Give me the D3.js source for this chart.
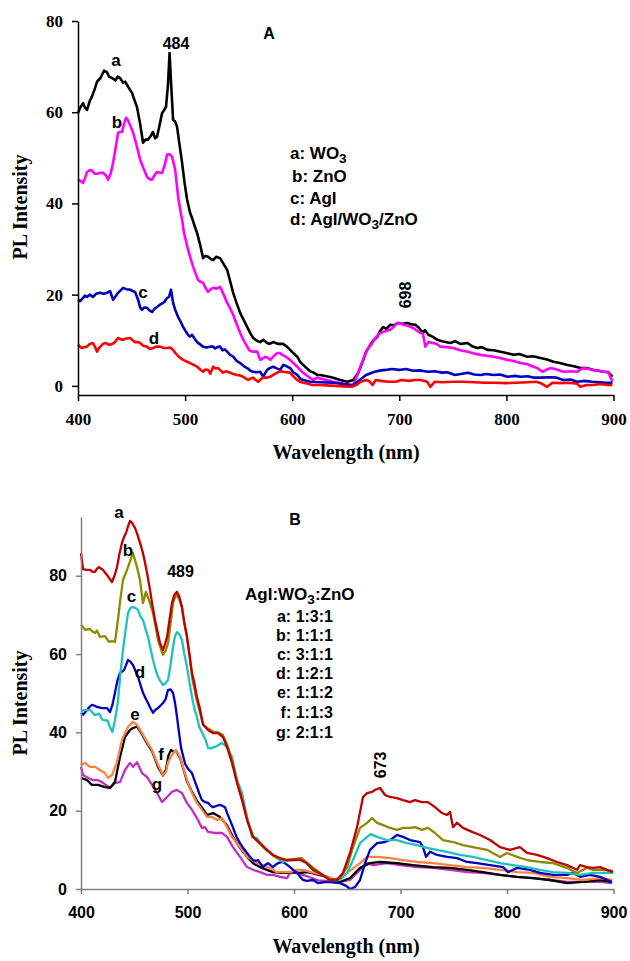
<!DOCTYPE html>
<html><head><meta charset="utf-8">
<script src="https://cdn.jsdelivr.net/npm/d3@7"></script>
<style>
body{margin:0;background:#fff;}
svg{display:block;}
.sans{font-family:"Liberation Sans",Arial,sans-serif;font-weight:bold;}
.serif{font-family:"Liberation Serif","Times New Roman",serif;font-weight:bold;}
</style></head>
<body>
<svg id="chart" width="630" height="961"></svg>
<script>
// ---------- data ----------
const wavelengthTicks = [400, 500, 600, 700, 800, 900];
const intensityTicksA = [0, 20, 40, 60, 80];
const intensityTicksB = [0, 20, 40, 60, 80];

// Panel A  [wavelength nm, PL intensity]
const A_WO3 = [[400,59.8],[402,61],[404.7,62],[406.5,61],[408.4,60.5],[411,62.5],[413,63.4],[415.5,65],[417.8,66.7],[421,67.5],[424.3,69.1],[427,68.8],[429,67.8],[431.8,67.5],[435,67],[437,67.8],[439.3,67.5],[442,66.5],[444,66.7],[447,65.5],[450.5,64.2],[453,62.5],[455,61.2],[458,57.5],[460.7,53.3],[463,54],[465.4,54],[468,54.8],[470,55.7],[472,54.3],[473.8,54.6],[476,57],[478.5,59.8],[480.5,60.5],[482.2,61.2],[484,66],[485.5,73],[487,66],[488.8,58.3],[490.5,58],[492.5,56.8],[495,52.5],[497.2,48.9],[499.5,44.5],[501.9,40.8],[504.7,37.9],[506.5,36.8],[509,35],[511.2,33.5],[514,31],[516.8,28],[519,28.5],[521.5,28.3],[524,27.8],[526.2,27.6],[529,28.3],[532.7,28],[536,26.7],[539.3,25.4],[542,23],[544.9,20.4],[548,18.2],[551.4,16],[555,14.3],[558,12.9],[561,11.5],[563.6,10.5],[567,9.9],[570.1,9.6],[573,10.1],[576.6,9.4],[579,9.2],[582.2,9.6],[587,9.2],[591.6,9.2],[595,8.6],[598.1,7.9],[601,7.2],[604.7,6.4],[607.5,5.2],[610.3,4.6],[613,4],[616.8,3.2],[620,2.9],[623.4,2.4],[626.2,2.4],[632,2.1],[638.3,1.8],[645,1.3],[651.4,0.9],[657,1.3],[661.7,2.9],[666.4,5.7],[669,7.5],[672.9,9],[676,10],[679.4,10.7],[682,12],[685,12.9],[688,12.5],[691.6,13.4],[695,13.3],[699,13.8],[703,13.6],[707.5,13.8],[711,13.5],[715,13.4],[718,12.8],[721.5,11.8],[724,12.2],[727.1,11.2],[731,10.8],[735.5,10.1],[740,9.8],[747.7,9.4],[752,9.8],[757,9.2],[763.6,9.4],[768,8.7],[772.9,8.3],[777,8.5],[782.2,7.9],[788,7.8],[794.4,7.5],[800,7.2],[806.5,6.8],[812,7.0],[819.6,6.4],[825,6.5],[831.8,6.1],[838,5.8],[843.9,5.3],[850,5.0],[857,4.6],[863,4.3],[869.2,3.9],[875,3.9],[881.3,3.5],[886,3.3],[890.7,3.1],[895,3.0],[899,2.0]];

const A_ZnO = [[400,45.2],[402,45],[404.7,44.5],[406.5,45.5],[408.4,46.9],[411,47.3],[413.1,47.2],[415.5,46.5],[417.8,46.5],[420,46.7],[423.4,46.7],[426,46.2],[428,45.2],[430.5,46.5],[432.7,48.9],[435,52],[437.4,55.5],[439,55.6],[441.1,55.7],[443,57.5],[444.9,58.8],[446.5,58.3],[448.6,57.2],[451,55.8],[453.3,54],[455.5,52],[458,49.6],[461,47.8],[464.5,45.8],[467,45.3],[469.2,45.2],[471.5,46.2],[473.8,46.9],[476,46.8],[478.5,46.7],[481,48.5],[483.2,50.7],[485.5,50.8],[487.9,50.2],[490.7,47.4],[493.5,41.4],[495.5,38.5],[497.2,36.4],[499,33.5],[502.8,29.8],[505,28],[507.5,26.1],[510,24.5],[512.1,23.2],[514.5,22.8],[516.8,22.6],[519,21.5],[521.5,20.6],[524,21.2],[526.2,21.5],[529,21.3],[532.7,21.7],[536,20],[539.3,18.2],[542,17],[544.9,15.6],[548,13.6],[551.4,11.6],[555,9.8],[558,8.6],[560,7.8],[562.6,7.5],[565,7.5],[567.3,7.5],[570.1,5.7],[572.5,6],[574.8,6.4],[577,6.2],[579.4,5.7],[583,6.6],[586,7.2],[588.5,7.2],[590.7,6.8],[594,6.4],[598.1,5.7],[601,5],[604.7,4.2],[607.5,3.5],[610.3,2.9],[614,2.2],[619.6,1.3],[623.4,1.8],[630,1.4],[638.3,0.9],[645,0.6],[651,0.3],[656.1,-0.2],[658.9,1.3],[661,2.5],[663.6,4.2],[667,6.2],[670.1,7.9],[674.8,9.4],[678,10.6],[682.2,11.6],[686,11.9],[691.6,12.3],[695,13],[698.1,13.8],[700,13.8],[703.7,13.4],[708,13.2],[713.1,12.7],[716,12.2],[719.6,11.6],[722,11.5],[724.3,8.6],[727.1,9.6],[731.8,9.4],[735,9.2],[738.3,8.6],[744,8.5],[750.5,8.3],[757,7.8],[763.6,7.5],[770,7.1],[775.7,6.8],[782,6.6],[787.9,6.4],[794,6.1],[800.9,5.7],[806,5.5],[813.1,5.0],[819,4.8],[825.2,4.2],[829,3.9],[833.6,3.1],[838,3.6],[841.1,3.9],[847,3.6],[853.3,3.1],[860,3.2],[866.4,3.1],[869,3.6],[872,3.9],[877,3.7],[881.3,3.5],[886,3.3],[890.7,3.1],[895,3.1],[899.1,0.9]];

const A_AgI = [[400,18.9],[402,18.6],[404.7,19.3],[406.5,19.8],[408.4,19.5],[411,20],[414,19.5],[417,20.2],[420.6,20.4],[424,20.2],[427.1,20.4],[429.9,20.8],[432.7,18.9],[435,19.6],[437.4,20.4],[440,21],[442.1,21.5],[445,21.2],[448.6,21.1],[451,20.8],[453.3,20.6],[456.1,18.9],[458,17.2],[459.8,16.7],[462,17.2],[464.5,17.1],[467,16.5],[469.2,16.2],[471.5,16.9],[473.8,17.3],[476.5,17.8],[479.4,18.2],[481,18.5],[483.2,19.3],[485,19.5],[486.9,21.1],[488.8,18.2],[491,16.5],[493.5,15.1],[496,14],[498.1,12.9],[500.5,12],[502.8,11.2],[504.5,10.8],[506.5,11.2],[509,10.3],[511.2,9.6],[514,9.1],[516.8,8.6],[520,8.4],[523.4,8.6],[526.2,8.6],[528,8.2],[530,8.5],[532.7,8.6],[535,7.8],[537,8.0],[539.3,7.5],[542,6.8],[544.9,6.4],[548,5.5],[551.4,5.0],[555,4.3],[558,3.9],[561,3.3],[563.6,3.1],[567,3.0],[570.1,3.1],[572.9,2.0],[574.8,2.8],[576.6,3.5],[579,3.9],[582.2,4.2],[585,3.9],[588.8,3.5],[591.6,4.6],[594,4.4],[598.1,3.9],[601,3.0],[604.7,2.4],[607.5,1.6],[610.3,1.3],[616.8,0.9],[626,0.8],[638.3,0.7],[648,0.4],[657,0.2],[663,1.3],[669,2.4],[677,3.1],[683,3.4],[687,3.5],[693,3.7],[700,3.5],[706,3.7],[713,3.3],[719,3.4],[727,3.1],[733,3.2],[740,2.9],[745,3.0],[752,2.4],[760,2.7],[764,2.9],[770,2.5],[776,2.4],[781,2.6],[788,2.4],[794,2.5],[801,2.0],[808,2.2],[813,2.0],[820,2.1],[826,1.8],[833,1.8],[840,1.9],[847,1.8],[853,1.3],[860,1.4],[866,0.9],[873,1.1],[880,0.9],[887,0.8],[893,0.7],[899,0.7]];

const A_AgI_WO3_ZnO = [[400,9.0],[402,8.6],[403.7,8.3],[406,8.5],[408.4,8.6],[411,9.2],[414,9.4],[416,8.5],[417.8,7.5],[420,8.4],[422.4,9.0],[424,9.3],[426.2,9.4],[428,9.1],[429.9,9.0],[432,9.2],[434.6,9.6],[437.4,10.5],[440,10.2],[442.1,10.1],[445,10.4],[448.6,10.5],[451,10.0],[453.3,9.6],[456,9.6],[458,9.4],[461,8.8],[464.5,8.6],[467,8.1],[470.1,8.3],[473,8.6],[476.6,8.6],[480,8.3],[483.2,8.3],[486,8.4],[488.8,7.9],[490.5,7.3],[492.5,6.8],[495,6.2],[498.1,5.7],[501,5.4],[504.7,5.0],[508,4.6],[511.2,4.2],[514,3.6],[516.8,3.1],[519,3.6],[521.5,3.5],[523.5,2.7],[526.2,4.2],[528.5,3.8],[530.8,3.9],[533,3.4],[535.5,2.9],[538,3.2],[542.1,2.9],[545,2.6],[548.6,2.4],[551,2.3],[554.2,2.0],[556,1.7],[558.9,1.3],[561,1.6],[563.6,1.8],[566,1.3],[568.2,0.9],[570.5,1.4],[572.9,1.8],[576,1.8],[579.4,2.0],[583,2.5],[586,2.9],[589,3.2],[591.6,3.1],[595,3.0],[598.1,2.9],[601,2.1],[604.7,1.3],[607.5,0.9],[610.3,0.7],[614,0.5],[618.7,0.2],[625,0.2],[632,0.1],[640,0.0],[648,-0.1],[655,-0.2],[660,0.2],[664,0.9],[669,1.3],[672,1.0],[675,0.2],[678,1.3],[683,1.1],[690,0.9],[697,0.9],[702,1.3],[709,1.1],[714,1.3],[720,1.3],[726,0.9],[729,-0.2],[733,0.9],[740,0.8],[750,0.9],[760,0.9],[770,0.8],[780,0.7],[790,0.7],[800,0.6],[810,0.7],[820,0.8],[828,0.9],[833,0.5],[838,-0.2],[843,0.7],[850,0.6],[858,0.7],[866,0.5],[869,-0.2],[875,0.2],[881,0.2],[888,0.4],[894,0.2],[899,0.2]];

// Panel B  [wavelength nm, PL intensity]
const B_131 = [[400,85.8],[401.9,81.7],[405,81.5],[408.5,81.5],[411,81],[413.1,81],[415,81.8],[416.9,82.2],[419,81.8],[420.7,81.5],[422.5,80.8],[424.4,80.2],[427,79.2],[429.1,78.4],[431.5,80],[433.8,82.2],[436,85.5],[438.5,88.4],[440.5,90],[442.3,90.9],[444,92.5],[446,94],[448,93.5],[450.7,92.2],[453,90.5],[455.4,88.4],[458,86],[460.1,83.3],[462.5,80],[464.8,76.4],[467,72.5],[469.5,68.7],[472,65.5],[474.2,62.8],[477,61],[478.8,62.5],[480.8,64.4],[483,68.5],[485.4,73],[487.5,75],[490.1,75.9],[492.5,74.5],[494.8,72],[497,68],[499.5,64.4],[502,59.5],[504.2,55.2],[506.5,52.5],[508.9,49],[511.7,46],[514.6,42],[519.3,40.6],[524,39.8],[528.6,39.8],[533.3,38.8],[537.1,36.3],[541.8,32.2],[546.5,27.1],[551.2,22.7],[555.9,17.6],[561.5,13.3],[568,11.7],[574.7,10],[580.3,8.7],[586.9,7.9],[593.4,7.4],[599,7.4],[605.6,7.5],[612.2,6.6],[617.8,4.9],[624.4,4.0],[633.8,2.3],[640.4,2.3],[646,4.1],[652.6,9.2],[659.2,15.8],[664.8,23.5],[668.6,24.5],[673.3,24.8],[676.1,25.3],[680.8,25.8],[685.5,24],[690.2,23.5],[696.7,23.2],[702.4,22.7],[708.9,22.2],[713.6,22.7],[720.2,22.2],[725.8,22.2],[732.4,20.9],[739,19.4],[743.7,18.9],[746.5,19.7],[749.3,15.8],[753.1,16.9],[758.7,15.6],[767.2,14.6],[774.7,13.8],[784.1,12.5],[793.4,10.7],[802.8,10],[812.2,10.7],[818.8,9.2],[828.2,8.7],[837.6,7.9],[847,6.9],[856.4,6.1],[865.7,4.9],[868.6,6.1],[875.1,5.6],[880.8,5.4],[887.4,5.6],[893.9,4.9],[899.5,4.3]];

const B_111 = [[400,67.5],[403.8,66.2],[408.5,66.4],[410.5,65.8],[413.1,65.4],[415,66],[417.8,64.4],[422.5,64.6],[426.3,63.1],[429,63.3],[431.9,63.1],[434.7,68.7],[437,74],[439.4,78.9],[441.8,80.5],[444.1,82.2],[446.5,84],[448.8,85.8],[450.7,84],[452.6,82.2],[455.4,78.9],[458.2,73],[461,75.9],[464.8,73],[467.6,70.5],[470,67],[472.3,63.6],[474.7,61.5],[477,59.8],[479.4,60.8],[481.7,62.8],[484,67.5],[486.4,73],[488.2,74.5],[490.1,75.1],[492.5,73.8],[494.8,71.8],[497,68],[499.5,64.4],[502,59.5],[504.2,54.2],[508,49],[511.7,45],[514.6,42],[519.3,41],[524,40.2],[528.6,40],[533.3,39.3],[537.1,37],[541.8,32.8],[546.5,27.5],[551.2,23],[555.9,18],[561.5,13.5],[568,11.5],[574.7,9.8],[580.3,8.5],[586.9,7.6],[593.4,7.4],[599,7.6],[605.6,7.9],[610,7.2],[615,6.1],[624.4,4.1],[633.8,2.3],[643.2,2.8],[649.8,5.6],[655.4,10.7],[662,15.6],[668.6,16.9],[673.3,18.1],[678,16.9],[683.6,16.3],[690.2,15.6],[696.7,15.1],[702.4,15.6],[708.9,15.6],[713.6,15.8],[720.2,15.1],[725.8,15.6],[732.4,14.3],[739.9,12.5],[749.3,12],[758.7,11.2],[768.1,10.7],[781.2,10],[793.4,8.2],[800,9.2],[809.4,8.2],[818.8,7.4],[831,6.9],[843.2,6.6],[856.4,5.4],[865.7,4.1],[875.1,5.4],[880.8,4.9],[890.2,4.9],[899.6,4.6]];

const B_311 = [[400,45.5],[403,45.7],[408.5,45.7],[413,44.4],[417,44.8],[420,43.2],[425,43],[427,41.5],[429.5,40.1],[432,43.2],[434.7,48],[437,55],[439.4,61],[441.8,66],[444.1,70.5],[446.5,71.8],[448.8,72],[451,71.8],[453.5,71.3],[456,69.5],[458.2,68.7],[460.5,66.5],[462.9,64.4],[465.2,61.5],[467.6,58.5],[470,56],[472.3,54.2],[474.7,53],[477,52.1],[479.3,52.5],[481.7,53.4],[484,57],[486.4,61.8],[488.2,64.5],[490.1,65.6],[492.5,65],[494.8,63.6],[497,60],[499.5,56.7],[502,52.5],[504.2,49],[506.5,46],[508.9,43.9],[511,41.4],[514,39.8],[517,38.1],[519.3,36],[522,35.9],[525.5,36.3],[528,36.6],[532,37.3],[535,36.8],[538,35.8],[541.8,33.7],[546.5,27.8],[551.2,24.5],[555.9,18.4],[560.6,13.3],[565.3,13],[571,10.7],[577.5,9.2],[584,7.9],[589.7,6.9],[596.3,7.4],[602.8,7.4],[607.5,7.9],[612,6.5],[615,5.6],[620,4.5],[624.4,4.1],[633.8,2.3],[643.2,2.3],[649.8,4.1],[655.4,7.4],[662,11.7],[668.6,13.3],[672,14],[678,13.3],[687.4,12.5],[696.7,12.5],[706.1,11.7],[715.5,11.2],[724.9,10.5],[734.3,10],[743.7,9.5],[755.9,8.7],[768.1,8.2],[781.2,7.4],[793.4,6.6],[805.6,6.1],[818.8,5.6],[831,4.9],[843.2,4.3],[856.4,4.1],[868.6,3.6],[880.8,4.1],[899.6,4.1]];

const B_121 = [[400,45],[402,44.5],[405.6,45.7],[408,46.5],[410.3,47],[413,46.8],[415,46.5],[419.7,46.2],[424.4,46.2],[427.2,45.2],[429.5,47],[431.9,50.1],[434,53],[436.6,55.2],[438.5,55.5],[440.4,55.9],[442,57],[444.1,58.5],[446.5,58],[448.8,57.2],[451,55.8],[453.5,54.2],[456,52],[458.2,50.1],[460.5,48.8],[462.9,47.5],[465,46.3],[467.6,45],[470,45.8],[472.3,46.2],[474.5,46.8],[477,47.5],[479.5,48.5],[481.7,50.8],[484,51],[486.4,50.1],[488.3,47.5],[490.1,44],[492,40],[494,36],[497.7,32],[501,30.5],[504.2,29.6],[506.5,27.8],[508.9,26],[511.3,24.2],[513.6,22.7],[516.5,22.2],[519.3,22],[521.6,21.3],[524,20.9],[527,21.2],[530.5,21.5],[533,21.2],[535.2,20.9],[537.5,19.2],[539.9,17.6],[542.3,16],[544.6,14.3],[547,12.8],[549.3,11.7],[552.5,10.4],[555.9,9.2],[558.7,8.2],[561.5,7.4],[564,7.2],[566.2,7.4],[568.5,6.5],[570.9,5.6],[573.2,6.2],[575.6,6.6],[578,6.1],[580.3,5.6],[582.6,6.2],[585,6.6],[587.3,6.8],[589.7,6.9],[593,6.3],[596.3,5.6],[599.5,4.8],[602.8,4.1],[605.6,3.2],[608.5,2.3],[612,2.1],[617.8,2.3],[622.5,1.5],[631,1.8],[643.2,1.5],[649,0.8],[652.6,0],[657.3,0.5],[662,2.3],[666.7,6.6],[671.4,10],[678,11.7],[685.5,12],[690.2,12.5],[696.7,13.8],[702.4,13.3],[708.9,12.5],[718.3,12],[721.1,10.7],[724,8.2],[727.7,9.5],[734.3,8.7],[743.7,8.2],[753.1,7.9],[762.5,6.9],[771.8,6.6],[784.1,6.1],[796.3,5.6],[801,4.3],[809.4,5.4],[821.6,4.9],[831,4.1],[843.2,3.6],[856.4,3.6],[862,4.1],[868.6,3.1],[878,3.6],[887.4,3.1],[898.6,1.8]];

const B_112 = [[400,31.7],[403.8,32.2],[408.5,31.2],[413.1,31.2],[417.8,30.4],[422.5,29.6],[425.4,28.4],[429.1,29.1],[433.8,32.4],[438.5,38.1],[444.1,41.4],[448.8,42.7],[452.6,41.9],[457.3,39.8],[462,37.5],[466.7,35.5],[469.5,33.5],[472.3,31.7],[477,29.1],[479.8,29.9],[481.7,32.4],[485.4,34.2],[489.2,35.5],[493,33.7],[495.8,31.2],[499.5,27.8],[504.2,24.5],[508.9,22],[513.6,20.2],[518.3,18.4],[523,18.4],[527.7,17.6],[532.4,18.1],[537.1,15.8],[541.8,13.3],[546.5,11.7],[551.2,10],[555.9,8.2],[560.6,7.4],[565.3,6.6],[570.9,6.1],[577.5,5.4],[584,4.3],[589.7,4.3],[596.3,4.3],[602.8,4.9],[608.5,4.9],[615,4.4],[627,3.6],[640,2.3],[649.8,4.1],[662,6.6],[668.6,8.2],[678,8.2],[690.2,7.9],[702.4,7.4],[715.5,6.9],[730.5,6.6],[746.5,6.1],[762.5,5.6],[777.5,5.4],[793.4,4.9],[809.4,4.3],[824.4,4.1],[840.4,3.1],[856.4,2.8],[871.4,2.3],[887.4,2.8],[898.6,2.3]];

const B_113 = [[400,28.4],[405.6,27.8],[410.3,26.6],[416,26.6],[422.5,26],[427.2,25.8],[431.9,27.3],[436.6,33.7],[441.3,38.8],[446,40.6],[448.8,41.1],[452.6,41.5],[457.3,39.5],[462,37.2],[466.7,35.2],[469.5,33.2],[472.3,31.2],[477,29],[479.8,30.5],[482,34],[484.5,35.5],[487,35],[489.2,35.3],[493,33.5],[495.8,31],[499.5,27.5],[504.2,24.8],[508.9,22.5],[513.6,20.8],[518.3,18.9],[524,19.4],[530.5,18.4],[537.1,16.3],[542.7,13.3],[549.3,10.5],[555.9,8.2],[561.5,6.6],[568,5.6],[574.7,4.9],[580.3,4.3],[586.9,4.1],[593.4,4.1],[599,4.3],[605.6,4.1],[612.2,4.3],[617.8,4.0],[631,3.1],[643.2,1.8],[652.6,2.8],[662,5.4],[671.4,6.6],[680.8,6.9],[696.7,6.6],[711.8,6.1],[730.5,5.6],[746.5,5.4],[762.5,4.9],[777.5,4.3],[793.4,3.6],[809.4,3.1],[824.4,2.8],[840.4,2.3],[856.4,1.5],[871.4,1.8],[887.4,2.3],[898.6,1.8]];

const B_211 = [[400,31.2],[401.9,29.1],[406.6,28.4],[411.3,27.8],[416,27.8],[420.7,27.1],[427.2,25.8],[431.9,27.1],[436.6,27.3],[441.3,30.4],[446,32.2],[448.8,31.2],[452.6,32.4],[457.3,29.6],[462,28.6],[466.7,26.6],[471.4,24.5],[476.1,22.2],[480.8,23.5],[485.4,24.8],[490.1,25.3],[494.8,24.5],[499.5,22],[504.2,20.2],[508.9,18.1],[513.6,15.6],[516.4,15.8],[519.3,14.6],[525.8,14.3],[532.4,14.3],[537.1,13.3],[542.7,10.7],[549.3,8.2],[555.9,5.6],[561.5,4.9],[568.1,4.3],[574.7,3.6],[580.3,3.6],[586.9,3.1],[593.4,2.8],[596.3,4.1],[602.8,4.1],[608.5,3.6],[616.9,2.8],[622.5,2.2],[631,2.0],[643.2,1.8],[652.6,2.3],[662,4.9],[668.6,6.6],[674.2,6.1],[687.4,6.6],[699.6,6.1],[715.5,5.6],[730.5,5.4],[746.5,4.9],[762.5,4.3],[777.5,4.1],[793.4,3.6],[809.4,3.1],[824.4,2.8],[840.4,2.3],[856.4,1.8],[871.4,1.8],[887.4,1.8],[898.6,1.5]];

const seriesA = [
  {name:"WO3", data:A_WO3, color:"#000000"},
  {name:"ZnO", data:A_ZnO, color:"#ff00ff"},
  {name:"AgI", data:A_AgI, color:"#0000c0"},
  {name:"AgI/WO3/ZnO", data:A_AgI_WO3_ZnO, color:"#ff0000"}
];
const seriesB = [
  {name:"2:1:1", data:B_211, color:"#c030c0"},
  {name:"1:1:3", data:B_113, color:"#000000"},
  {name:"1:1:2", data:B_112, color:"#ff8040"},
  {name:"1:2:1", data:B_121, color:"#0000c0"},
  {name:"3:1:1", data:B_311, color:"#20c0c0"},
  {name:"1:1:1", data:B_111, color:"#8b8b00"},
  {name:"1:3:1", data:B_131, color:"#c00000"}
];

// ---------- drawing ----------
const svg = d3.select("#chart");

function panel(opts){
  const x = d3.scaleLinear().domain([400,900]).range(opts.xr);
  const y = d3.scaleLinear().domain(opts.yd).range(opts.yr);
  const g = svg.append("g");
  const line = d3.line().x(d=>x(d[0])).y(d=>y(d[1]));
  opts.series.forEach(s=>{
    g.append("path").datum(s.data).attr("d",line)
      .attr("fill","none").attr("stroke",s.color)
      .attr("stroke-width",opts.sw).attr("stroke-linejoin","round");
  });
  const yAxis = g.append("g").attr("transform",`translate(${opts.xr[0]},0)`)
    .call(d3.axisLeft(y).tickValues(opts.yticks).tickSize(opts.tick).tickSizeOuter(0).tickPadding(opts.ypad).tickFormat(d3.format("d")));
  const xAxis = g.append("g").attr("transform",`translate(0,${opts.yr[0]})`)
    .call(d3.axisBottom(x).tickValues(wavelengthTicks).tickSize(opts.tick).tickSizeOuter(0).tickPadding(opts.xpad).tickFormat(d3.format("d")));
  [yAxis,xAxis].forEach(a=>{
    a.selectAll("path,line").attr("stroke",opts.axisColor).attr("stroke-width",1.5);
    a.selectAll("text").attr("class",opts.tickClass).attr("font-size",opts.tickSize).attr("fill","#000")
      .style("font-family",null).attr("font-family",null);
  });
  return {x,y};
}

panel({xr:[78,613.5], yd:[-2,80], yr:[395,21], series:seriesA, sw:2.6,
  yticks:intensityTicksA, tick:6, ypad:9, xpad:12, axisColor:"#000", tickClass:"serif", tickSize:17});
panel({xr:[81,613.5], yd:[0,95], yr:[889,517], series:seriesB, sw:2.3,
  yticks:intensityTicksB, tick:5, ypad:9, xpad:13, axisColor:"#808080", tickClass:"sans", tickSize:16});

function txt(x,y,s,cls,size,anchor,rot){
  const t = svg.append("text").attr("class",cls).attr("font-size",size)
    .attr("text-anchor",anchor||"middle").attr("fill","#000");
  if(rot){ t.attr("transform",`translate(${x},${y}) rotate(${rot})`); }
  else { t.attr("x",x).attr("y",y); }
  t.text(s);
  return t;
}
function sub(x,y,parts,size,anchor){
  const t = svg.append("text").attr("class","sans").attr("font-size",size)
    .attr("text-anchor",anchor||"start").attr("x",x).attr("y",y).attr("fill","#000");
  parts.forEach(p=>{
    if(p.sub){ t.append("tspan").attr("font-size",size*0.8).attr("dy",4).text(p.t); }
    else { t.append("tspan").attr("dy",p.back?-4:0).text(p.t); }
  });
  return t;
}

// axis titles
txt(346,459,"Wavelength (nm)","serif",20);
txt(27,207,"PL Intensity","serif",20,"middle",-90);
txt(346,953,"Wavelength (nm)","serif",20);
txt(27,703,"PL Intensity","serif",20,"middle",-90);

// panel A annotations
txt(269,39,"A","sans",16);
txt(176,49,"484","sans",16);
txt(411,295,"698","sans",16,"middle",-90);
txt(116,66,"a","sans",17);
txt(117,128,"b","sans",17);
txt(143,298,"c","sans",17);
txt(154,344,"d","sans",17);
sub(290,159,[{t:"a: WO"},{t:"3",sub:true}],17);
sub(292,182,[{t:"b: ZnO"}],17);
sub(290,204,[{t:"c: AgI"}],17);
sub(290,225,[{t:"d: AgI/WO"},{t:"3",sub:true},{t:"/ZnO",back:true}],17);

// panel B annotations
txt(295,525,"B","sans",16);
txt(180.5,577,"489","sans",16);
txt(386,765,"673","sans",16,"middle",-90);
txt(119,518,"a","sans",17);
txt(128,556,"b","sans",17);
txt(131.5,602,"c","sans",17);
txt(140,678,"d","sans",17);
txt(135,720,"e","sans",17);
txt(161,760,"f","sans",17);
txt(157,790,"g","sans",17);
sub(245,600,[{t:"AgI:WO"},{t:"3",sub:true},{t:":ZnO",back:true}],17);
const ratios = ["a: 1:3:1","b: 1:1:1","c: 3:1:1","d: 1:2:1","e: 1:1:2","f: 1:1:3","g: 2:1:1"];
const ratioBase = [622,641,660,679,698,718,738];
ratios.forEach((r,i)=>txt(333,ratioBase[i],r,"sans",16,"end"));
</script>
</body></html>
